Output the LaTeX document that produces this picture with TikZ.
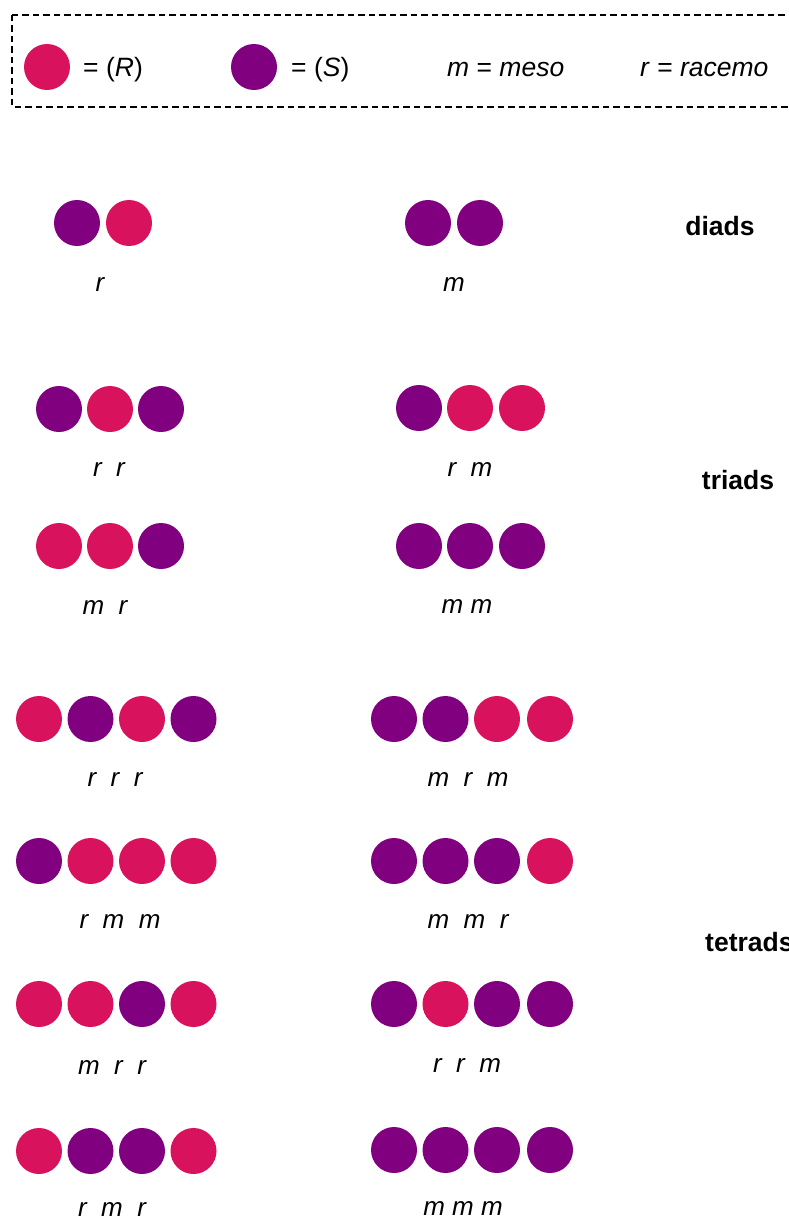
\documentclass[tikz,border=0pt]{standalone}
\usepackage{fontspec}
\setmainfont{Liberation Sans}
\begin{document}
\begin{tikzpicture}[x=1pt,y=-1pt,
  rball/.style={circle, fill=rcol, draw=none, minimum size=46pt, inner sep=0pt},
  sball/.style={circle, fill=scol, draw=none, minimum size=46pt, inner sep=0pt},
  lbl/.style={inner sep=0pt, font=\fontsize{26}{30}\selectfont\itshape},
  legtxt/.style={inner sep=0pt, anchor=base west, font=\fontsize{26.5}{30}\selectfont},
  head/.style={inner sep=0pt, font=\fontsize{26.5}{30}\selectfont\bfseries},
  legbox/.style={draw=black, line width=2pt, dash pattern=on 6.5pt off 4pt}]
\definecolor{rcol}{RGB}{216,18,92}
\definecolor{scol}{RGB}{128,0,128}
\useasboundingbox (0,0) rectangle (789,1220);
\clip (0,0) rectangle (789,1220);
% legend
\draw[legbox] (12,15) rectangle (805,107);
\node[rball] (legR) at (47,67) {};
\node[sball] (legS) at (254,67) {};
\node[legtxt] (legRt) at (83,77) {= (\textit{R})};
\node[legtxt] (legSt) at (291,77) {= (\textit{S})};
\node[legtxt] (legm) at (447,77) {\textit{m} = \textit{meso}};
\node[legtxt] (legr) at (640,77) {\textit{r} = \textit{racemo}};
% diads
\node[sball] (d1a) at (77,223) {};
\node[rball] (d1b) at (129,223) {};
\node[lbl] (d1l) at (100,285) {r};
\node[sball] (d2a) at (428,223) {};
\node[sball] (d2b) at (480,223) {};
\node[lbl] (d2l) at (454,285) {m};
\node[head] (diads) at (720,226) {diads};
% triads
\node[sball] (t1a) at (59,409) {};
\node[rball] (t1b) at (110,409) {};
\node[sball] (t1c) at (161,409) {};
\node[lbl] (t1l) at (109,470) {r\ \ r};
\node[sball] (t2a) at (419,408) {};
\node[rball] (t2b) at (470,408) {};
\node[rball] (t2c) at (522,408) {};
\node[lbl] (t2l) at (470,469) {r\ \ m};
\node[rball] (t3a) at (59,546) {};
\node[rball] (t3b) at (110,546) {};
\node[sball] (t3c) at (161,546) {};
\node[lbl] (t3l) at (105,607) {m\ \ r};
\node[sball] (t4a) at (419,546) {};
\node[sball] (t4b) at (470,546) {};
\node[sball] (t4c) at (522,546) {};
\node[lbl] (t4l) at (467,607) {m m};
\node[head] (triads) at (738,480) {triads};
% tetrads
\node[rball] (q1a) at (39,719) {};
\node[sball] (q1b) at (90.5,719) {};
\node[rball] (q1c) at (142,719) {};
\node[sball] (q1d) at (193.5,719) {};
\node[lbl] (q1l) at (115,779) {r\ \ r\ \ r};
\node[sball] (q2a) at (394,719) {};
\node[sball] (q2b) at (445.5,719) {};
\node[rball] (q2c) at (497,719) {};
\node[rball] (q2d) at (550,719) {};
\node[lbl] (q2l) at (468,779) {m\ \ r\ \ m};
\node[sball] (q3a) at (39,861) {};
\node[rball] (q3b) at (90.5,861) {};
\node[rball] (q3c) at (142,861) {};
\node[rball] (q3d) at (193.5,861) {};
\node[lbl] (q3l) at (120,921) {r\ \ m\ \ m};
\node[sball] (q4a) at (394,861) {};
\node[sball] (q4b) at (445.5,861) {};
\node[sball] (q4c) at (497,861) {};
\node[rball] (q4d) at (550,861) {};
\node[lbl] (q4l) at (468,921) {m\ \ m\ \ r};
\node[rball] (q5a) at (39,1004) {};
\node[rball] (q5b) at (90.5,1004) {};
\node[sball] (q5c) at (142,1004) {};
\node[rball] (q5d) at (193.5,1004) {};
\node[lbl] (q5l) at (112,1067) {m\ \ r\ \ r};
\node[sball] (q6a) at (394,1004) {};
\node[rball] (q6b) at (445.5,1004) {};
\node[sball] (q6c) at (497,1004) {};
\node[sball] (q6d) at (550,1004) {};
\node[lbl] (q6l) at (467,1065) {r\ \ r\ \ m};
\node[rball] (q7a) at (39,1151) {};
\node[sball] (q7b) at (90.5,1151) {};
\node[sball] (q7c) at (142,1151) {};
\node[rball] (q7d) at (193.5,1151) {};
\node[lbl] (q7l) at (112,1209) {r\ \ m\ \ r};
\node[sball] (q8a) at (394,1150) {};
\node[sball] (q8b) at (445.5,1150) {};
\node[sball] (q8c) at (497,1150) {};
\node[sball] (q8d) at (550,1150) {};
\node[lbl] (q8l) at (463,1208) {m m m};
\node[head, anchor=west] (tetrads) at (705,942) {tetrads};
\end{tikzpicture}
\end{document}
